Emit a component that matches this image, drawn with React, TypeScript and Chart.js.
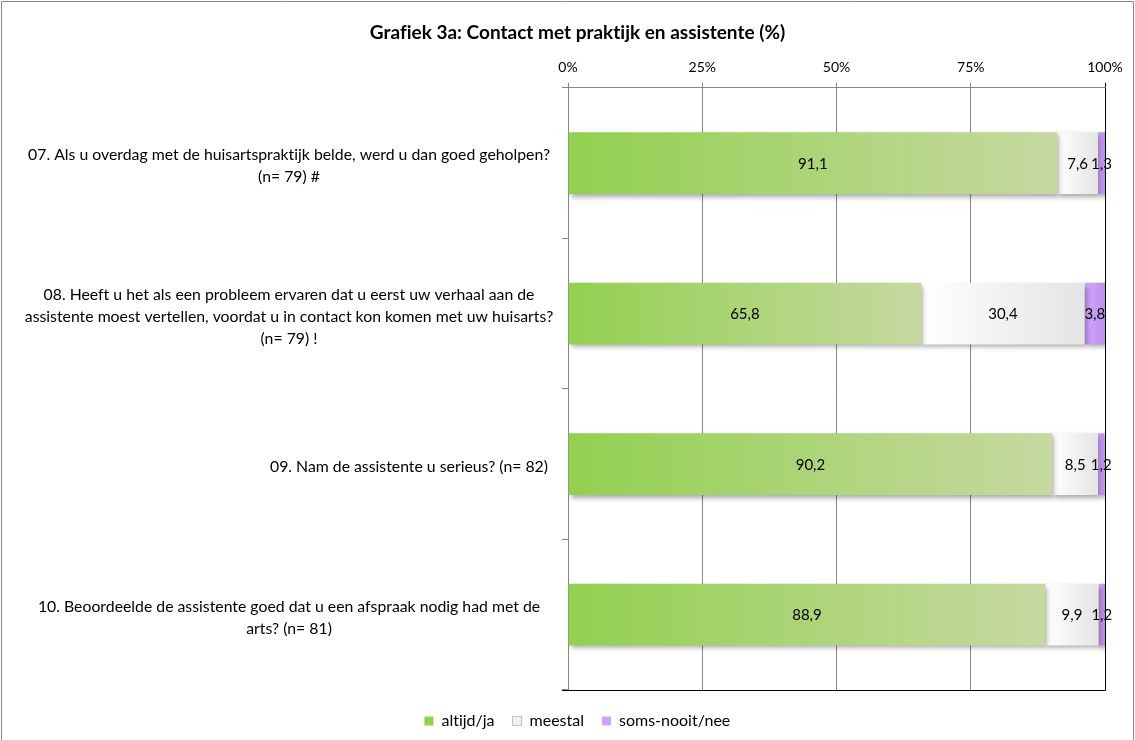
import React, { useEffect, useRef } from "react";
import { Chart, registerables } from "chart.js";

Chart.register(...registerables);

const FONT = "Lato, 'Open Sans', sans-serif";

const titleText = "Grafiek 3a: Contact met praktijk en assistente (%)";

const labelLines: string[][] = [
  ["07. Als u overdag met de huisartspraktijk belde, werd u dan goed geholpen?", "(n= 79) #"],
  [
    "08. Heeft u het als een probleem ervaren dat u eerst uw verhaal aan de",
    "assistente moest vertellen, voordat u in contact kon komen met uw huisarts?",
    "(n= 79) !",
  ],
  ["09. Nam de assistente u serieus? (n= 82)"],
  ["10. Beoordeelde de assistente goed dat u een afspraak nodig had met de", "arts? (n= 81)"],
];

const seriesNames = ["altijd/ja", "meestal", "soms-nooit/nee"];
const altijd = [91.1, 65.8, 90.2, 88.9];
const meestal = [7.6, 30.4, 8.5, 9.9];
const soms = [1.3, 3.8, 1.2, 1.2];
const xTickValues = [0, 25, 50, 75, 100];

const seriesValues = [altijd, meestal, soms];
const gradStops: [string, string][] = [
  ["#92D050", "#C6D9A0"],
  ["#FFFFFF", "#E4E4E4"],
  ["#D3AAFF", "#BE8EEB"],
];
const legendFill = ["#92D050", "#F2F2F2", "#CCA6F5"];
const legendStroke = ["#92D050", "#BFBFBF", "#CCA6F5"];

function gradientFill(si: number) {
  return (ctx: any) => {
    const chart = ctx.chart;
    const area = chart.chartArea;
    const xs = chart.scales && chart.scales.x;
    if (!area || !xs || ctx.type !== "data") return gradStops[si][0];
    const i = ctx.dataIndex;
    let start = 0;
    for (let k = 0; k < si; k++) start += seriesValues[k][i];
    const x0 = xs.getPixelForValue(start);
    const x1 = xs.getPixelForValue(start + seriesValues[si][i]);
    if (!isFinite(x0) || !isFinite(x1) || x1 - x0 < 0.5) return gradStops[si][0];
    const g = chart.ctx.createLinearGradient(x0, 0, x1, 0);
    g.addColorStop(0, gradStops[si][0]);
    g.addColorStop(1, gradStops[si][1]);
    return g;
  };
}

const fmt = (v: number) => v.toFixed(1).replace(".", ",");

const decorPlugin = {
  id: "decor",
  beforeDraw(chart: any) {
    const c = chart.ctx;
    try {
      c.textRendering = "optimizeSpeed";
    } catch (e) {}
    c.save();
    c.strokeStyle = "#888888";
    c.lineWidth = 1;
    c.beginPath();
    c.moveTo(1.5, 740);
    c.lineTo(1.5, 1.5);
    c.lineTo(1133.5, 1.5);
    c.lineTo(1133.5, 740);
    c.stroke();
    c.restore();
  },
  beforeDatasetsDraw(chart: any) {
    const c = chart.ctx;
    c.save();
    c.shadowColor = "rgba(0,0,0,0.35)";
    c.shadowBlur = 5;
    c.shadowOffsetX = 2;
    c.shadowOffsetY = 3;
  },
  afterDatasetsDraw(chart: any) {
    const c = chart.ctx;
    c.restore();
    c.save();
    c.font = `15px ${FONT}`;
    c.fillStyle = "#000";
    c.textAlign = "center";
    c.textBaseline = "middle";
    chart.data.datasets.forEach((ds: any, di: number) => {
      const meta = chart.getDatasetMeta(di);
      meta.data.forEach((bar: any, i: number) => {
        const v = ds.data[i];
        c.fillText(fmt(v), (bar.x + bar.base) / 2, bar.y + 1);
      });
    });
    c.restore();
  },
  afterDraw(chart: any) {
    const c = chart.ctx;
    const a = chart.chartArea;
    const ys = chart.scales.y;
    c.save();
    c.strokeStyle = "#000";
    c.lineWidth = 1;
    c.beginPath();
    c.moveTo(a.left - 6, Math.round(a.bottom) + 0.5);
    c.lineTo(Math.round(a.right) + 0.5, Math.round(a.bottom) + 0.5);
    c.moveTo(Math.round(a.right) + 0.5, a.top);
    c.lineTo(Math.round(a.right) + 0.5, Math.round(a.bottom) + 0.5);
    c.stroke();
    c.font = `15.8px ${FONT}`;
    c.fillStyle = "#000";
    c.textBaseline = "middle";
    const lh = 22;
    const center = a.left - 279;
    labelLines.forEach((lines, i) => {
      const yc = ys.getPixelForValue(i) + 3;
      lines.forEach((ln, j) => {
        const y = yc + (j - (lines.length - 1) / 2) * lh;
        if (lines.length === 1) {
          c.textAlign = "right";
          c.fillText(ln, a.left - 20, y);
        } else {
          c.textAlign = "center";
          c.fillText(ln, center, y);
        }
      });
    });
    c.restore();
  },
};

export default function App() {
  const ref = useRef<HTMLCanvasElement | null>(null);
  useEffect(() => {
    if (!ref.current) return;
    const chart = new Chart(ref.current, {
      type: "bar",
      data: {
        labels: labelLines,
        datasets: seriesValues.map((vals, si) => ({
          label: seriesNames[si],
          data: vals,
          backgroundColor: gradientFill(si),
          borderWidth: 0,
          categoryPercentage: 1,
          barPercentage: 0.41,
        })),
      },
      options: {
        indexAxis: "y",
        responsive: false,
        animation: false,
        layout: { padding: { left: 50, right: 30, top: 0, bottom: 1 } },
        scales: {
          x: {
            type: "linear",
            position: "top",
            stacked: true,
            min: 0,
            max: 100,
            afterBuildTicks: (s: any) => {
              s.ticks = xTickValues.map((v) => ({ value: v }));
            },
            ticks: {
              callback: (v: any) => v + "%",
              font: { family: FONT, size: 14 },
              color: "#000",
              padding: 7,
            },
            grid: {
              color: (ctx: any) => (ctx.index === 4 ? "#000" : "#868686"),
              tickLength: 5,
              lineWidth: 1,
            },
            border: { color: "#868686" },
            afterFit: (s: any) => {
              s.height = 40;
            },
          },
          y: {
            type: "category",
            stacked: true,
            ticks: { display: false },
            grid: { drawOnChartArea: false, offset: true, tickLength: 6, color: "#868686" },
            border: { color: "#868686" },
            afterFit: (s: any) => {
              s.width = 518;
            },
          },
        },
        plugins: {
          title: {
            display: true,
            text: titleText,
            color: "#000",
            font: { family: FONT, size: 19, weight: "bold" },
            padding: { top: 21, bottom: 4 },
          },
          legend: {
            position: "bottom",
            title: { display: true, text: "", font: { size: 1 }, padding: { top: 0, bottom: 4 } },
            labels: {
              font: { family: FONT, size: 16 },
              color: "#000",
              boxWidth: 9,
              boxHeight: 9,
              padding: 18,
              generateLabels: () =>
                seriesNames.map((n, i) => ({
                  text: n,
                  fillStyle: legendFill[i],
                  strokeStyle: legendStroke[i],
                  lineWidth: i === 1 ? 1 : 0,
                  hidden: false,
                  datasetIndex: i,
                  fontColor: "#000",
                })),
            },
          },
          tooltip: { enabled: false },
        },
      },
      plugins: [decorPlugin],
    } as any);
    return () => chart.destroy();
  }, []);
  return (
    <div style={{ position: "fixed", left: 0, top: 0, width: 1135, height: 740, background: "#fff" }}>
      <canvas ref={ref} width={1135} height={740} style={{ width: 1135, height: 740, display: "block" }} />
    </div>
  );
}
